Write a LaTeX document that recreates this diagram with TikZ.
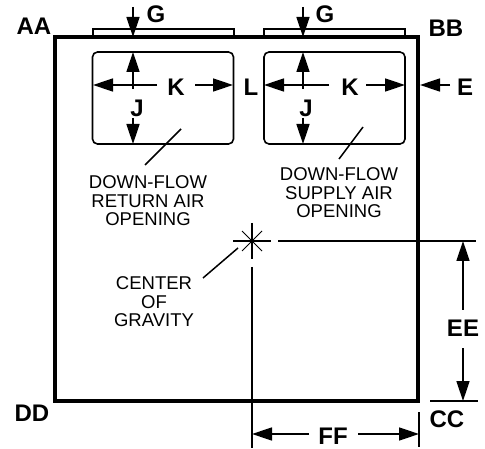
\documentclass[tikz,border=0pt]{standalone}
\usepackage{fontspec}
\setmainfont{Liberation Sans}
\usetikzlibrary{arrows.meta}
\tikzset{
  cabinet/.style={draw,line width=3.8pt,inner sep=0,outer sep=0,minimum width=363pt,minimum height=364pt},
  opening/.style={draw,line width=1.6pt,rounded corners=5pt,inner sep=0,outer sep=0,minimum width=141pt,minimum height=92pt},
  flange/.style={draw,line width=1.3pt,inner sep=0,outer sep=0,minimum width=141pt,minimum height=8pt},
  dim/.style={font=\fontsize{24}{24}\bfseries,inner sep=0},
  note/.style={font=\fontsize{18.5}{18.5}\selectfont,align=center,inner sep=0},
  dimline/.style={line width=1.5pt,-{Triangle[length=20pt,width=13pt]}},
  thin line/.style={line width=1.5pt}
}
\begin{document}
\begin{tikzpicture}[x=1pt,y=-1pt]
      \useasboundingbox (0,0) rectangle (485,449);
      \draw
        (163.5,33) node[flange] (flangeA){}
        (334.5,33) node[flange] (flangeB){}
        (236.5,219) node[cabinet] (cabinet){}
        (163,98) node[opening] (returnair){}
        (334.5,98) node[opening] (supplyair){};
      \draw
        (34,26) node[dim] (AA){AA}
        (446,28) node[dim] (BB){BB}
        (32,413) node[dim] (DD){DD}
        (447,419) node[dim] (CC){CC}
        (463,328) node[dim] (EE){EE}
        (333,436) node[dim] (FF){FF}
        (156,14) node[dim] (G1){G}
        (325,14) node[dim] (G2){G}
        (176,87) node[dim] (K1){K}
        (350,87) node[dim] (K2){K}
        (137,108) node[dim] (J1){J}
        (306,108) node[dim] (J2){J}
        (251,87) node[dim] (L){L}
        (465,87) node[dim] (E){E};
      \draw
        (148,201) node[note] (returntext){DOWN-FLOW\\RETURN AIR\\OPENING}
        (339,193) node[note] (supplytext){DOWN-FLOW\\SUPPLY AIR\\OPENING}
        (154,302) node[note] (cgtext){CENTER\\OF\\GRAVITY};
      \draw
        (252,241) coordinate (cg)
        (133,7) coordinate (g1tail)
        (133,37) coordinate (g1tip)
        (303,7) coordinate (g2tail)
        (303,37) coordinate (g2tip)
        (133,89) coordinate (j1up)
        (133,52) coordinate (j1top)
        (133,118) coordinate (j1down)
        (133,144) coordinate (j1bot)
        (303,89) coordinate (j2up)
        (303,52) coordinate (j2top)
        (303,118) coordinate (j2down)
        (303,144) coordinate (j2bot)
        (157,85) coordinate (k1l)
        (93,85) coordinate (k1ltip)
        (195,85) coordinate (k1r)
        (233,85) coordinate (k1rtip)
        (329,85) coordinate (k2l)
        (264,85) coordinate (k2ltip)
        (366,85) coordinate (k2r)
        (405,85) coordinate (k2rtip)
        (450,85) coordinate (etail)
        (420,85) coordinate (etip)
        (463,310) coordinate (eeup)
        (463,241) coordinate (eeuptip)
        (463,348) coordinate (eedown)
        (463,401) coordinate (eedowntip)
        (309,434) coordinate (ffl)
        (252,434) coordinate (ffltip)
        (358,434) coordinate (ffr)
        (419,434) coordinate (ffrtip);
      \begin{scope}[dimline]
        \draw (g1tail) to (g1tip);
        \draw (g2tail) to (g2tip);
        \draw (j1up) to (j1top);
        \draw (j1down) to (j1bot);
        \draw (j2up) to (j2top);
        \draw (j2down) to (j2bot);
        \draw (k1l) to (k1ltip);
        \draw (k1r) to (k1rtip);
        \draw (k2l) to (k2ltip);
        \draw (k2r) to (k2rtip);
        \draw (etail) to (etip);
        \draw (eeup) to (eeuptip);
        \draw (eedown) to (eedowntip);
        \draw (ffl) to (ffltip);
        \draw (ffr) to (ffrtip);
      \end{scope}
      \draw
        (181,129) coordinate (l1a)
        (145,165) coordinate (l1b)
        (363,127) coordinate (l2a)
        (339,159) coordinate (l2b)
        (238,248) coordinate (l3a)
        (203,278) coordinate (l3b)
        (233,241) coordinate (cgw)
        (271,241) coordinate (cge)
        (252,223) coordinate (cgn)
        (252,259) coordinate (cgs)
        (242,231) coordinate (cgnw)
        (262,251) coordinate (cgse)
        (262,231) coordinate (cgne)
        (242,251) coordinate (cgsw)
        (278,241) coordinate (cgext)
        (476,241) coordinate (eetop)
        (252,267) coordinate (ffext)
        (252,448) coordinate (ffbot)
        (430,401) coordinate (ccl)
        (478,401) coordinate (ccr)
        (419,412) coordinate (ffrtop)
        (419,447) coordinate (ffrbot);
      \begin{scope}[thin line]
        \draw (l1a) to (l1b);
        \draw (l2a) to (l2b);
        \draw (l3a) to (l3b);
        \draw (cgw) to (cge);
        \draw (cgn) to (cgs);
        \draw[line width=1pt] (cgnw) to (cgse);
        \draw[line width=1pt] (cgne) to (cgsw);
        \draw (cgext) to (eetop);
        \draw (ffext) to (ffbot);
        \draw (ccl) to (ccr);
        \draw (ffrtop) to (ffrbot);
      \end{scope}
    \end{tikzpicture}
\end{document}
